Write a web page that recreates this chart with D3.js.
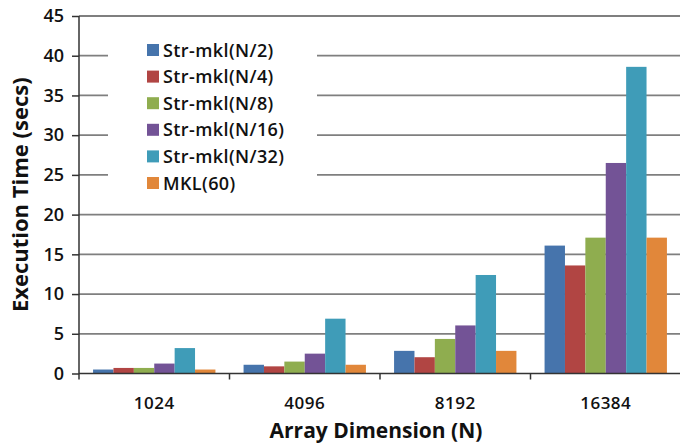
<!DOCTYPE html>
<html>
<head>
<meta charset="utf-8">
<script src="https://cdn.jsdelivr.net/npm/d3@7"></script>
<style>
  body { margin: 0; background: #fff; }
  text { font-family: "Open Sans", sans-serif; fill: #111; }
</style>
</head>
<body>
<div id="chart"></div>
<script>
"use strict";

// categories (array dimension N)
var categories = ["1024", "4096", "8192", "16384"];

// series names, in legend order
var series = ["Str-mkl(N/2)", "Str-mkl(N/4)", "Str-mkl(N/8)", "Str-mkl(N/16)", "Str-mkl(N/32)", "MKL(60)"];

// execution time (secs) per series, one value per category
var strN2 = [0.5, 1.1, 2.85, 16.1];
var strN4 = [0.7, 0.9, 2.05, 13.6];
var strN8 = [0.7, 1.5, 4.35, 17.1];
var strN16 = [1.25, 2.5, 6.05, 26.5];
var strN32 = [3.2, 6.9, 12.4, 38.6];
var mkl60 = [0.5, 1.1, 2.85, 17.1];

var yTicks = [0, 5, 10, 15, 20, 25, 30, 35, 40, 45];

var seriesColors = ["#4674ac", "#b14543", "#8fad4f", "#735396", "#3f9cb8", "#e1873a"];

var values = [strN2, strN4, strN8, strN16, strN32, mkl60];

var w = 680,
  h = 448,
  plotLeft = 79,
  plotRight = 681,
  plotTop = 16,
  plotBottom = 373.5;

var svg = d3
  .select("#chart")
  .append("svg")
  .attr("width", w)
  .attr("height", h);

var x0 = d3.scaleBand().domain(categories).range([plotLeft, plotRight]).padding(0);

var x1 = d3
  .scaleBand()
  .domain(series)
  .range([0, x0.bandwidth()])
  .paddingInner(0)
  .paddingOuter(0.69);

var y = d3.scaleLinear().domain([0, 45]).range([plotBottom, plotTop]);

//gridlines
svg
  .append("g")
  .selectAll("line")
  .data(yTicks.filter(function(d) { return d > 0; }))
  .enter()
  .append("line")
  .attr("x1", plotLeft)
  .attr("x2", plotRight)
  .attr("y1", function(d) { return y(d); })
  .attr("y2", function(d) { return y(d); })
  .attr("stroke", "#7f7f7f")
  .attr("stroke-width", 1.8);

//legend background hides part of the upper gridlines
svg
  .append("rect")
  .attr("x", 108)
  .attr("y", y(45) + 4)
  .attr("width", 209)
  .attr("height", y(20) - y(45) - 8)
  .attr("fill", "#fff");

//bars
var groups = svg
  .append("g")
  .selectAll("g")
  .data(categories)
  .enter()
  .append("g")
  .attr("transform", function(d) { return "translate(" + x0(d) + ",0)"; });

groups
  .selectAll("rect")
  .data(function(d, ci) {
    return series.map(function(s, si) {
      return { s: s, si: si, v: values[si][ci] };
    });
  })
  .enter()
  .append("rect")
  .attr("x", function(d) { return x1(d.s); })
  .attr("width", x1.bandwidth())
  .attr("y", function(d) { return y(d.v); })
  .attr("height", function(d) { return y(0) - y(d.v); })
  .attr("fill", function(d) { return seriesColors[d.si]; });

//y axis
var yAxis = svg
  .append("g")
  .attr("transform", "translate(" + plotLeft + ",0)")
  .call(d3.axisLeft(y).tickValues(yTicks).tickSize(7).tickPadding(8));

yAxis.select(".domain").attr("stroke", "#333").attr("stroke-width", 1.5).attr("d", "M0," + plotTop + "V" + (plotBottom + 6));
yAxis.selectAll(".tick line").attr("stroke", "#333").attr("stroke-width", 1.5);
yAxis
  .selectAll(".tick text")
  .style("font-size", "18px")
  .style("font-weight", 600)
  .style("font-family", "'Open Sans', sans-serif")
  .attr("fill", "#111");

//x axis
var xAxis = svg.append("g");
xAxis
  .append("line")
  .attr("x1", plotLeft)
  .attr("x2", plotRight)
  .attr("y1", plotBottom)
  .attr("y2", plotBottom)
  .attr("stroke", "#333")
  .attr("stroke-width", 1.5);

xAxis
  .selectAll(".xtick")
  .data(categories.slice(1))
  .enter()
  .append("line")
  .attr("x1", function(d) { return x0(d); })
  .attr("x2", function(d) { return x0(d); })
  .attr("y1", plotBottom)
  .attr("y2", plotBottom + 6)
  .attr("stroke", "#333")
  .attr("stroke-width", 1.5);

xAxis
  .selectAll(".xlabel")
  .data(categories)
  .enter()
  .append("text")
  .attr("x", function(d) { return x0(d) + x0.bandwidth() / 2; })
  .attr("y", plotBottom + 35)
  .attr("text-anchor", "middle")
  .style("font-size", "17px")
  .style("font-weight", 600)
  .style("letter-spacing", "0.5px")
  .text(function(d) { return d; });

//axis titles
svg
  .append("text")
  .attr("x", 376)
  .attr("y", 438)
  .attr("text-anchor", "middle")
  .style("font-size", "21px")
  .style("font-weight", 700)
  .text("Array Dimension (N)");

svg
  .append("text")
  .attr("transform", "translate(28," + (plotTop + plotBottom) / 2 + ") rotate(-90)")
  .attr("text-anchor", "middle")
  .style("font-size", "22px")
  .style("font-weight", 700)
  .text("Execution Time (secs)");

//legend
var legend = svg
  .append("g")
  .selectAll("g")
  .data(series)
  .enter()
  .append("g")
  .attr("transform", function(d, i) { return "translate(147," + (50 + i * 26.6) + ")"; });

legend
  .append("rect")
  .attr("x", 0)
  .attr("y", -6)
  .attr("width", 12)
  .attr("height", 12)
  .attr("fill", function(d, i) { return seriesColors[i]; });

legend
  .append("text")
  .attr("x", 16)
  .attr("y", 6.5)
  .style("font-size", "18px")
  .style("font-weight", 600)
  .style("letter-spacing", "0.4px")
  .text(function(d) { return d; });
</script>
</body>
</html>
